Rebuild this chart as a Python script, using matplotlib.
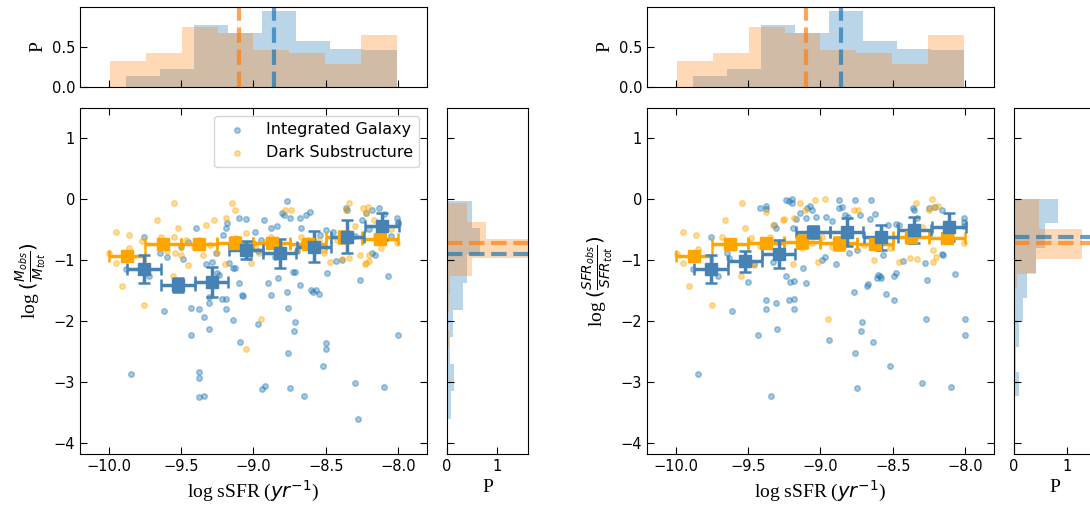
import matplotlib
matplotlib.use('Agg')
import matplotlib.pyplot as plt
import numpy as np

# ---------------- data ----------------
# top histograms (log sSFR), density normalised, shared by both panels
ssfr_edges_gal = [-9.88, -9.646, -9.411, -9.177, -8.943, -8.709, -8.474, -8.24, -8.006]
ssfr_hist_gal = [0.14, 0.22, 0.77, 0.67, 0.95, 0.57, 0.48, 0.46]
ssfr_edges_sub = [-9.995, -9.745, -9.495, -9.248, -9.005, -8.755, -8.507, -8.257, -8.009]
ssfr_hist_sub = [0.33, 0.42, 0.75, 0.67, 0.46, 0.43, 0.29, 0.65]
ssfr_median_gal = -8.86
ssfr_median_sub = -9.10

# side histogram, mass ratio panel
mass_edges_gal = [-3.60, -3.15, -2.71, -2.26, -1.82, -1.37, -0.92, -0.48, -0.03]
mass_hist_gal = [0.07, 0.13, 0.05, 0.12, 0.31, 0.39, 0.65, 0.49]
mass_edges_sub = [-2.44, -2.15, -1.85, -1.55, -1.26, -0.96, -0.66, -0.37, -0.07]
mass_hist_sub = [0.03, 0.0, 0.03, 0.05, 0.49, 1.72, 0.78, 0.39]
mass_median_gal = -0.907
mass_median_sub = -0.73

# side histogram, SFR ratio panel
sfr_edges_gal = [-3.23, -2.83, -2.42, -2.02, -1.62, -1.21, -0.81, -0.40, 0.0]
sfr_hist_gal = [0.09, 0.03, 0.10, 0.17, 0.25, 0.42, 0.58, 0.84]
sfr_edges_sub = [-1.96, -1.715, -1.47, -1.225, -0.98, -0.735, -0.49, -0.245, 0.0]
sfr_hist_sub = [0.02, 0.02, 0.06, 0.42, 1.28, 1.28, 0.47, 0.47]
sfr_median_gal = -0.63
sfr_median_sub = -0.72

# binned means
bin_x_gal = [-9.76, -9.52, -9.29, -9.05, -8.82, -8.58, -8.35, -8.11]
bin_xerr_gal = 0.117
bin_x_sub = [-9.875, -9.625, -9.375, -9.125, -8.875, -8.625, -8.375, -8.125]
bin_xerr_sub = 0.125

mass_bin_gal = [-1.15, -1.41, -1.36, -0.84, -0.89, -0.78, -0.62, -0.45]
mass_binerr_gal = [0.23, 0.12, 0.24, 0.15, 0.24, 0.25, 0.27, 0.22]
mass_bin_sub = [-0.93, -0.74, -0.74, -0.73, -0.73, -0.74, -0.62, -0.66]
mass_binerr_sub = [0.05, 0.05, 0.05, 0.11, 0.08, 0.05, 0.10, 0.06]

sfr_bin_gal = [-1.15, -1.02, -0.90, -0.54, -0.54, -0.63, -0.51, -0.46]
sfr_binerr_gal = [0.23, 0.17, 0.23, 0.10, 0.23, 0.20, 0.21, 0.23]
sfr_bin_sub = [-0.93, -0.74, -0.73, -0.70, -0.73, -0.74, -0.63, -0.64]
sfr_binerr_sub = [0.05, 0.05, 0.05, 0.11, 0.10, 0.05, 0.10, 0.08]

# scatter points, mass ratio panel
mass_gal_x = [-9.88, -9.76, -9.72, -9.65, -9.60, -9.50, -9.49, -9.45, -9.40, -9.33, -9.29, -9.26, -9.25,
              -9.21, -9.19, -9.18, -9.17, -9.14, -9.13, -9.10, -9.10, -9.08, -9.05, -9.03, -9.00, -8.99,
              -8.97, -8.95, -8.93, -8.90, -8.88, -8.88, -8.85, -8.84, -8.80, -8.79, -8.77, -8.75, -8.73,
              -8.71, -8.70, -8.68, -8.68, -8.67, -8.65, -8.64, -8.61, -8.60, -8.59, -8.57, -8.55, -8.54,
              -8.50, -8.49, -8.45, -8.43, -8.39, -8.36, -8.35, -8.34, -8.30, -8.26, -8.25, -8.22, -8.20,
              -8.18, -8.18, -8.16, -8.13, -8.10, -8.07, -8.05, -8.01, -8.00, -8.00,
              -9.85, -9.62, -9.43, -9.43, -9.38, -9.38, -9.38, -9.38, -9.34, -9.34, -9.31, -9.31, -9.31,
              -9.24, -9.22, -9.19, -9.19, -9.14, -9.09, -9.07, -8.97, -8.94, -8.92, -8.83, -8.77, -8.76,
              -8.76, -8.75, -8.72, -8.71, -8.65, -8.52, -8.50, -8.50, -8.30, -8.28, -8.10, -8.00]
mass_gal_y = [-1.15, -0.62, -1.27, -0.89, -0.95, -0.78, -0.99, -0.70, -0.48, -1.07, -1.04, -0.89, -1.22,
              -0.59, -0.48, -0.40, -1.05, -1.14, -1.14, -0.32, -1.37, -1.57, -0.33, -0.95, -0.73, -0.54,
              -0.85, -0.67, -0.34, -1.37, -0.48, -1.58, -0.95, -0.45, -0.23, -0.26, -0.03, -0.32, -1.19,
              -1.19, -0.85, -0.32, -1.41, -0.48, -0.70, -0.26, -0.21, -1.49, -1.52, -1.49, -1.55, -0.59,
              -0.51, -1.22, -0.55, -1.02, -1.00, -0.15, -0.18, -0.59, -0.60, -1.33, -0.34, -0.23, -0.50,
              -0.89, -0.18, -0.92, -0.15, -0.25, -1.26, -0.60, -0.32, -0.38, -0.41,
              -2.87, -1.84, -2.23, -1.79, -1.81, -2.84, -2.93, -3.24, -3.23, -1.93, -1.71, -2.13, -1.60,
              -1.25, -1.64, -1.64, -1.81, -1.98, -2.35, -1.59, -2.05, -3.12, -3.07, -1.29, -1.52, -1.79,
              -2.52, -3.10, -2.16, -2.01, -3.23, -2.73, -2.36, -2.46, -3.02, -3.60, -3.09, -2.23]

mass_sub_x = [-10.0, -9.95, -9.95, -9.91, -9.86, -9.86, -9.77, -9.76, -9.67, -9.64, -9.60, -9.56, -9.55,
              -9.55, -9.54, -9.52, -9.50, -9.47, -9.45, -9.41, -9.38, -9.35, -9.33, -9.30, -9.27, -9.25,
              -9.20, -9.19, -9.15, -9.13, -9.12, -9.10, -9.05, -9.05, -9.02, -8.99, -8.96, -8.95, -8.92,
              -8.88, -8.82, -8.78, -8.74, -8.70, -8.67, -8.62, -8.58, -8.55, -8.51, -8.51, -8.47, -8.42,
              -8.39, -8.36, -8.34, -8.34, -8.30, -8.26, -8.24, -8.23, -8.22, -8.22, -8.21, -8.20, -8.20,
              -8.17, -8.15, -8.12, -8.05, -8.01]
mass_sub_y = [-0.89, -1.05, -0.54, -1.42, -0.59, -0.81, -0.69, -1.74, -0.34, -0.62, -0.85, -1.26, -0.07,
              -0.63, -0.89, -0.47, -0.92, -0.67, -1.08, -0.78, -0.68, -0.92, -0.43, -0.75, -0.34, -0.89,
              -1.07, -0.32, -0.07, -0.18, -0.64, -0.81, -0.56, -2.46, -1.05, -0.78, -0.89, -1.96, -0.70,
              -0.62, -0.78, -0.18, -0.18, -0.85, -0.62, -0.67, -0.80, -0.67, -0.84, -0.88, -1.03, -0.67,
              -0.99, -0.18, -0.07, -0.96, -0.45, -0.92, -0.15, -1.07, -0.23, -1.05, -0.13, -0.92, -1.01,
              -0.34, -0.60, -0.80, -0.50, -0.73]

# scatter points, SFR ratio panel
sfr_gal_x = [-9.88, -9.76, -9.71, -9.65, -9.63, -9.50, -9.46, -9.42, -9.38, -9.38, -9.33, -9.32, -9.31,
             -9.24, -9.22, -9.20, -9.20, -9.19, -9.17, -9.14, -9.12, -9.10, -9.10, -9.09, -9.07, -9.06,
             -9.03, -8.99, -8.97, -8.96, -8.92, -8.89, -8.87, -8.87, -8.85, -8.83, -8.81, -8.80, -8.76,
             -8.75, -8.73, -8.67, -8.66, -8.65, -8.62, -8.60, -8.59, -8.57, -8.53, -8.48, -8.48, -8.46,
             -8.43, -8.36, -8.35, -8.33, -8.28, -8.26, -8.25, -8.21, -8.16, -8.16, -8.15, -8.07, -8.01,
             -8.01, -8.01,
             -9.85, -9.61, -9.43, -9.38, -9.38, -9.34, -9.31, -9.30, -9.24, -9.21, -9.22, -9.18, -9.18,
             -9.18, -8.94, -8.77, -8.76, -8.75, -8.72, -8.71, -8.68, -8.64, -8.61, -8.58, -8.55, -8.52,
             -8.49, -8.49, -8.30, -8.27, -8.10, -8.00, -8.00]
sfr_gal_y = [-1.15, -0.62, -1.27, -0.89, -0.96, -1.36, -1.07, -0.15, -0.11, -0.17, -1.04, -0.43, -0.48,
             -0.02, -0.03, 0.0, -0.07, -0.48, -0.33, -0.23, -1.14, -1.37, -0.32, -0.15, -0.11, -0.18,
             -0.29, -1.00, -0.95, -0.29, -0.36, -1.07, -0.02, -0.15, -0.14, -0.26, -0.29, -0.89, -0.02,
             -0.84, -0.26, -1.40, -0.33, -0.02, -0.25, -1.25, -1.26, -0.92, -0.43, -0.41, -1.22, -0.43,
             -1.01, -0.15, -0.18, -0.32, -1.05, -1.33, -0.15, -0.14, -0.18, -0.90, -0.92, -1.23, -0.32,
             -0.38, -0.45,
             -2.87, -1.84, -2.23, -1.65, -1.81, -3.23, -1.71, -2.13, -1.26, -1.36, -1.65, -1.64, -1.80,
             -1.34, -2.32, -1.52, -2.52, -3.10, -2.17, -2.01, -1.42, -2.35, -1.30, -1.29, -1.56, -2.73,
             -1.65, -1.26, -3.02, -1.96, -3.09, -1.96, -2.23]

sfr_sub_x = [-9.99, -9.95, -9.95, -9.91, -9.86, -9.85, -9.75, -9.68, -9.66, -9.60, -9.55, -9.54, -9.52,
             -9.48, -9.46, -9.42, -9.38, -9.35, -9.33, -9.28, -9.26, -9.25, -9.19, -9.18, -9.14, -9.13,
             -9.11, -9.06, -9.04, -9.02, -8.99, -8.97, -8.95, -8.92, -8.83, -8.80, -8.77, -8.74, -8.70,
             -8.63, -8.56, -8.52, -8.46, -8.38, -8.34, -8.33, -8.30, -8.25, -8.23, -8.22, -8.22, -8.22,
             -8.20, -8.19, -8.10, -8.01]
sfr_sub_y = [-0.90, -1.05, -0.54, -1.42, -0.59, -0.82, -1.74, -0.63, -0.34, -0.80, -1.26, -0.07, -0.47,
             -0.64, -1.08, -0.77, -0.22, -0.62, -0.43, -0.70, -0.34, -0.33, -1.07, -0.32, -0.07, -0.81,
             -0.18, -0.73, -0.02, -1.04, -0.62, 0.0, -1.96, -0.78, -0.73, -0.55, -0.18, -0.18, -0.75,
             -1.00, -0.60, -0.81, -1.03, -0.97, -0.07, -0.98, -0.46, -0.18, 0.0, -0.13, -1.03, -0.84,
             -0.95, -0.11, -0.60, -0.73]

# ---------------- layout (pixels of the 1090x508 figure) ----------------
W, H = 1090, 508
C_GAL = 'tab:blue'
C_SUB = 'orange'
C_BIN_GAL = 'steelblue'
C_BIN_SUB = '#FFA500'
LABEL_FONT = ['Liberation Serif', 'DejaVu Serif']


def px_axes(fig, x0, y0, x1, y1):
    """add axes from pixel box (x0, y0) top-left to (x1, y1) bottom-right"""
    return fig.add_axes([x0 / W, 1 - y1 / H, (x1 - x0) / W, (y1 - y0) / H])


def draw_panel(fig, x_off, side_w, side_xmax, gal_x, gal_y, sub_x, sub_y,
               bin_gal, binerr_gal, bin_sub, binerr_sub,
               side_edges_gal, side_hist_gal, side_edges_sub, side_hist_sub,
               side_med_gal, side_med_sub, ylabel, legend):
    ax = px_axes(fig, x_off, 108, x_off + 347, 454)
    ax_top = px_axes(fig, x_off, 7, x_off + 347, 87)
    ax_side = px_axes(fig, x_off + 367, 108, x_off + 367 + side_w, 454)

    # main scatter
    ax.scatter(gal_x, gal_y, s=16, color=C_GAL, alpha=0.4, label='Integrated Galaxy')
    ax.scatter(sub_x, sub_y, s=16, color=C_SUB, alpha=0.4, label='Dark Substructure')
    ax.errorbar(bin_x_sub, bin_sub, xerr=bin_xerr_sub, yerr=binerr_sub, fmt='s',
                color=C_BIN_SUB, ms=9, elinewidth=2.5, capsize=4, capthick=1.8)
    ax.errorbar(bin_x_gal, bin_gal, xerr=bin_xerr_gal, yerr=binerr_gal, fmt='s',
                color=C_BIN_GAL, ms=9, elinewidth=2.5, capsize=4, capthick=1.8)
    ax.set_xlim(-10.2, -7.8)
    ax.set_ylim(-4.18, 1.49)
    ax.set_xticks([-10.0, -9.5, -9.0, -8.5, -8.0])
    ax.set_yticks([-4, -3, -2, -1, 0, 1])
    ax.tick_params(direction='in', top=True, right=True, labelsize=10.5, length=5)
    ax.set_xlabel(r'log sSFR ($yr^{-1}$)', fontsize=14, family=LABEL_FONT)
    ax.set_ylabel(ylabel, fontsize=14, family=LABEL_FONT)
    if legend:
        ax.legend(loc='upper right', fontsize=11.5)

    # top histogram
    ax_top.stairs(ssfr_hist_gal, ssfr_edges_gal, fill=True, color=C_GAL, alpha=0.3)
    ax_top.stairs(ssfr_hist_sub, ssfr_edges_sub, fill=True, color='tab:orange', alpha=0.3)
    ax_top.axvline(ssfr_median_gal, color=C_GAL, ls='--', lw=3, alpha=0.7)
    ax_top.axvline(ssfr_median_sub, color='tab:orange', ls='--', lw=3, alpha=0.7)
    ax_top.set_xlim(-10.2, -7.8)
    ax_top.set_ylim(0, 1.0)
    ax_top.set_xticks([-10.0, -9.5, -9.0, -8.5, -8.0])
    ax_top.set_yticks([0.0, 0.5])
    ax_top.tick_params(direction='in', labelbottom=False, labelsize=10.5, length=5)
    ax_top.set_ylabel('P', fontsize=14, family=LABEL_FONT)

    # side histogram
    ax_side.stairs(side_hist_gal, side_edges_gal, fill=True, color=C_GAL, alpha=0.3,
                   orientation='horizontal')
    ax_side.stairs(side_hist_sub, side_edges_sub, fill=True, color='tab:orange', alpha=0.3,
                   orientation='horizontal')
    ax_side.axhline(side_med_gal, color=C_GAL, ls='--', lw=3, alpha=0.7)
    ax_side.axhline(side_med_sub, color='tab:orange', ls='--', lw=3, alpha=0.7)
    ax_side.set_ylim(-4.18, 1.49)
    ax_side.set_xlim(0, side_xmax)
    ax_side.set_xticks([0, 1])
    ax_side.set_yticks([-4, -3, -2, -1, 0, 1])
    ax_side.tick_params(direction='in', labelleft=False, labelsize=10.5, length=5)
    ax_side.set_xlabel('P', fontsize=14, family=LABEL_FONT)
    return ax


def main():
    fig = plt.figure(figsize=(W / 100, H / 100), dpi=100)

    draw_panel(fig, 80, 81, 1.62, mass_gal_x, mass_gal_y, mass_sub_x, mass_sub_y,
               mass_bin_gal, mass_binerr_gal, mass_bin_sub, mass_binerr_sub,
               mass_edges_gal, mass_hist_gal, mass_edges_sub, mass_hist_sub,
               mass_median_gal, mass_median_sub,
               r'log $(\frac{M_{obs}}{M_{tot}})$', legend=True)

    draw_panel(fig, 647, 81, 1.53, sfr_gal_x, sfr_gal_y, sfr_sub_x, sfr_sub_y,
               sfr_bin_gal, sfr_binerr_gal, sfr_bin_sub, sfr_binerr_sub,
               sfr_edges_gal, sfr_hist_gal, sfr_edges_sub, sfr_hist_sub,
               sfr_median_gal, sfr_median_sub,
               r'log $(\frac{SFR_{obs}}{SFR_{tot}})$', legend=False)

    fig.savefig('out.png', dpi=100)
    plt.close(fig)


if __name__ == '__main__':
    main()
